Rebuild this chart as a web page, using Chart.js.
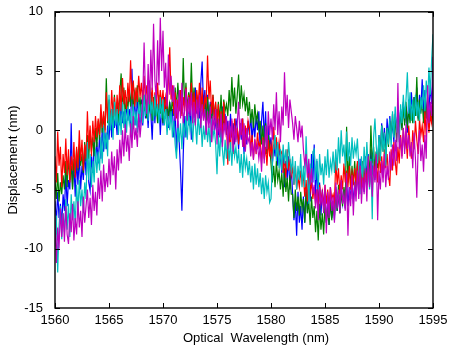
<!DOCTYPE html>
<html>
<head>
<meta charset="utf-8">
<title>Displacement vs Optical Wavelength</title>
<script src="https://cdn.jsdelivr.net/npm/chart.js@4.4.1/dist/chart.umd.min.js"></script>
<style>
  html, body { margin: 0; padding: 0; background: #fff; }
  #wrap { width: 449px; height: 350px; }
</style>
</head>
<body>
<div id="wrap"><canvas id="chart-disp" width="449" height="350"></canvas></div>
<script>
/* ══════════════════════════════════════════════════════════════════════════════
   DATA — displacement (nm) per sweep, one row = 1 nm (0.125 nm samples)
══════════════════════════════════════════════════════════════════════════════ */
const wavelength = [
  1560, 1560.125, 1560.25, 1560.375, 1560.5, 1560.625, 1560.75, 1560.875,
  1561, 1561.125, 1561.25, 1561.375, 1561.5, 1561.625, 1561.75, 1561.875,
  1562, 1562.125, 1562.25, 1562.375, 1562.5, 1562.625, 1562.75, 1562.875,
  1563, 1563.125, 1563.25, 1563.375, 1563.5, 1563.625, 1563.75, 1563.875,
  1564, 1564.125, 1564.25, 1564.375, 1564.5, 1564.625, 1564.75, 1564.875,
  1565, 1565.125, 1565.25, 1565.375, 1565.5, 1565.625, 1565.75, 1565.875,
  1566, 1566.125, 1566.25, 1566.375, 1566.5, 1566.625, 1566.75, 1566.875,
  1567, 1567.125, 1567.25, 1567.375, 1567.5, 1567.625, 1567.75, 1567.875,
  1568, 1568.125, 1568.25, 1568.375, 1568.5, 1568.625, 1568.75, 1568.875,
  1569, 1569.125, 1569.25, 1569.375, 1569.5, 1569.625, 1569.75, 1569.875,
  1570, 1570.125, 1570.25, 1570.375, 1570.5, 1570.625, 1570.75, 1570.875,
  1571, 1571.125, 1571.25, 1571.375, 1571.5, 1571.625, 1571.75, 1571.875,
  1572, 1572.125, 1572.25, 1572.375, 1572.5, 1572.625, 1572.75, 1572.875,
  1573, 1573.125, 1573.25, 1573.375, 1573.5, 1573.625, 1573.75, 1573.875,
  1574, 1574.125, 1574.25, 1574.375, 1574.5, 1574.625, 1574.75, 1574.875,
  1575, 1575.125, 1575.25, 1575.375, 1575.5, 1575.625, 1575.75, 1575.875,
  1576, 1576.125, 1576.25, 1576.375, 1576.5, 1576.625, 1576.75, 1576.875,
  1577, 1577.125, 1577.25, 1577.375, 1577.5, 1577.625, 1577.75, 1577.875,
  1578, 1578.125, 1578.25, 1578.375, 1578.5, 1578.625, 1578.75, 1578.875,
  1579, 1579.125, 1579.25, 1579.375, 1579.5, 1579.625, 1579.75, 1579.875,
  1580, 1580.125, 1580.25, 1580.375, 1580.5, 1580.625, 1580.75, 1580.875,
  1581, 1581.125, 1581.25, 1581.375, 1581.5, 1581.625, 1581.75, 1581.875,
  1582, 1582.125, 1582.25, 1582.375, 1582.5, 1582.625, 1582.75, 1582.875,
  1583, 1583.125, 1583.25, 1583.375, 1583.5, 1583.625, 1583.75, 1583.875,
  1584, 1584.125, 1584.25, 1584.375, 1584.5, 1584.625, 1584.75, 1584.875,
  1585, 1585.125, 1585.25, 1585.375, 1585.5, 1585.625, 1585.75, 1585.875,
  1586, 1586.125, 1586.25, 1586.375, 1586.5, 1586.625, 1586.75, 1586.875,
  1587, 1587.125, 1587.25, 1587.375, 1587.5, 1587.625, 1587.75, 1587.875,
  1588, 1588.125, 1588.25, 1588.375, 1588.5, 1588.625, 1588.75, 1588.875,
  1589, 1589.125, 1589.25, 1589.375, 1589.5, 1589.625, 1589.75, 1589.875,
  1590, 1590.125, 1590.25, 1590.375, 1590.5, 1590.625, 1590.75, 1590.875,
  1591, 1591.125, 1591.25, 1591.375, 1591.5, 1591.625, 1591.75, 1591.875,
  1592, 1592.125, 1592.25, 1592.375, 1592.5, 1592.625, 1592.75, 1592.875,
  1593, 1593.125, 1593.25, 1593.375, 1593.5, 1593.625, 1593.75, 1593.875,
  1594, 1594.125, 1594.25, 1594.375, 1594.5, 1594.625, 1594.75, 1594.875,
  1595,
];

const blueRun = [
  -6.0, -7.8, -5.2, -7.4, -6.2, -8.0, -5.4, -6.8,
  -3.6, -6.4, -4.2, -5.0, 0.6, -4.8, -2.8, -5.6,
  -2.4, -4.6, -2.0, -5.0, -3.0, -4.2, -1.8, -3.8,
  -1.2, -4.4, -5.1, -2.2, -3.6, -0.8, -2.6, -1.0,
  -2.8, -0.4, -2.4, 0.2, -1.8, -0.2, -1.6, 0.4,
  -0.8, 1.4, -0.6, 1.8, 0.2, 1.2, -0.4, 2.0,
  0.4, 2.2, 0.6, 1.6, 0.2, 2.4, 0.8, 1.8,
  0.2, 5.2, 1.0, 2.6, 0.4, 2.8, 1.2, 0.6,
  2.6, 0.4, 3.0, 1.0, 2.2, 0.2, 2.8, 1.4,
  -0.8, 2.4, 0.6, 3.0, 1.2, 2.6, -0.4, 2.0,
  0.4, 2.8, 1.2, 3.0, 0.2, 2.4, 1.0, 1.8,
  -0.6, 1.6, -1.8, 0.8, -1.0, -3.4, -6.8, -2.0,
  1.2, -0.6, 2.6, 0.4, 2.2, -0.8, 3.0, 1.0,
  3.6, 1.4, 2.8, 1.0, 4.0, 5.8, 2.0, 3.4,
  1.0, 3.0, 0.6, 2.4, 0.2, 2.8, 1.2, 0.4,
  1.8, -0.6, 1.2, -1.0, 2.0, 0.0, 1.4, -0.4,
  0.8, -1.0, 1.4, -0.6, 0.6, -1.2, 1.0, 0.2,
  -1.6, 0.6, -0.8, 1.0, -2.0, 0.2, -1.2, 0.8,
  -0.4, 1.4, -1.0, 0.8, -0.6, 1.2, 0.0, 1.6,
  -1.8, 0.8, 2.4, -0.8, 1.6, -2.0, 0.4, -1.4,
  -0.6, -2.8, -1.2, -2.2, -0.8, -3.0, -1.6, -2.4,
  -3.6, -2.0, -4.8, -2.6, -4.2, -2.2, -5.0, -3.0,
  -5.4, -7.6, -6.0, -8.9, -5.2, -7.8, -6.4, -8.4,
  -5.6, -7.8, -4.8, -7.0, -3.2, -6.0, -2.0, -4.4,
  -1.2, -5.6, -2.6, -6.8, -4.4, -7.2, -5.0, -6.4,
  -5.4, -7.8, -6.2, -8.0, -5.6, -7.4, -6.0, -7.6,
  -4.8, -6.8, -5.2, -7.0, -4.6, -6.2, -5.4, -6.6,
  -4.2, -6.4, -4.8, -5.8, -4.0, -6.2, -4.6, -5.4,
  -3.0, -5.4, -2.4, -4.8, -3.6, -5.2, -2.2, -4.0,
  -2.0, -4.4, -1.6, -3.8, -2.4, -4.2, -1.8, -3.0,
  -0.4, -2.0, 0.6, -1.4, 0.2, -1.8, 1.0, -0.8,
  1.2, -0.6, 0.8, -1.0, 1.4, 0.0, 1.6, -0.2,
  1.8, 0.2, 2.4, 0.6, 2.0, -0.2, 2.6, 1.0,
  3.2, 1.2, 2.8, 1.6, 3.6, 1.0, 3.0, 1.8,
  4.3, 1.4, 3.4, 1.0, 2.8, 1.6, 3.8, 2.2,
  5.0,
];

const greenRun = [
  -4.2, -5.8, -3.6, -6.0, -4.4, -5.4, -3.8, -5.0,
  -2.6, -4.8, -2.2, -4.2, -3.0, -5.0, -2.4, -3.6,
  -1.6, -3.4, -1.2, -3.0, -2.0, -3.6, -1.0, -2.6,
  -0.4, -2.4, 0.0, -1.8, -0.6, -2.2, 0.2, -1.4,
  0.8, -0.8, 1.6, -0.2, 1.2, 0.0, 4.4, 0.6,
  2.6, 0.4, 1.8, 0.2, 3.0, 1.0, 2.4, 0.6,
  3.2, 4.8, 1.6, 3.6, 1.2, 2.8, 1.8, 3.4,
  2.0, 4.0, 1.6, 3.2, 2.4, 3.8, 1.8, 2.8,
  1.2, 3.4, 1.6, 3.0, 1.0, 2.6, 1.8, 3.2,
  0.8, 2.8, 1.2, 2.2, 0.6, 3.0, 1.4, 2.4,
  0.6, 2.6, 1.0, 3.0, 0.8, 2.2, 1.4, 2.8,
  1.2, 3.6, 1.8, 4.0, 2.2, 3.4, 1.4, 6.1,
  2.0, 4.0, 1.6, 3.2, 2.2, 5.7, 2.0, 3.6,
  1.4, 3.0, 1.0, 2.6, 1.6, 2.8, 1.2, 2.4,
  0.6, 2.8, 1.0, 2.2, 0.4, 3.0, 1.2, 2.0,
  0.2, 2.4, 0.8, 3.0, 0.4, 2.6, 1.6, 2.2,
  1.2, 3.4, 1.6, 4.5, 2.0, 3.6, 1.4, 3.0,
  4.7, 1.8, 3.8, 2.2, 3.0, 1.6, 2.8, 1.2,
  2.4, 0.6, 1.8, 0.2, 2.2, 0.8, 1.4, 0.0,
  0.8, -1.2, 0.4, -1.8, 0.6, -2.0, -0.4, -1.4,
  -2.8, -4.4, -3.0, -4.8, -2.6, -4.2, -3.4, -5.0,
  -3.6, -5.6, -3.2, -5.2, -4.0, -6.0, -3.8, -5.4,
  -5.4, -7.4, -5.0, -6.8, -5.6, -7.2, -5.2, -6.6,
  -5.8, -7.8, -5.2, -7.0, -6.0, -8.0, -5.6, -7.4,
  -6.4, -8.6, -6.8, -9.3, -6.2, -8.4, -7.0, -8.8,
  -6.2, -7.8, -6.6, -8.0, -6.0, -7.6, -6.4, -7.2,
  -5.0, -6.8, -4.6, -7.0, -5.2, -6.4, -4.8, -6.0,
  0.3, -4.4, -2.2, -5.0, -3.0, -4.6, -2.6, -4.8,
  -2.8, -4.8, -3.2, -5.0, -2.6, -4.4, -3.0, -4.6,
  -2.2, -4.0, 0.4, -2.8, -1.4, -3.6, -1.8, -3.2,
  -0.6, -2.4, 0.4, -1.8, -0.2, -2.6, 0.2, -1.4,
  0.8, -0.8, 1.4, -0.4, 1.0, -1.0, 1.2, 0.2,
  1.6, 0.0, 2.2, 0.4, 2.4, 0.2, 1.8, 0.6,
  2.0, 0.6, 2.8, 1.2, 4.5, 0.8, 2.6, 1.4,
  2.6, 0.6, 2.2, 1.0, 3.0, 0.4, 1.8, 0.8,
  1.4,
];

const redRun = [
  -2.2, -4.4, -0.1, -3.0, -1.4, -4.8, -2.0, -3.6,
  -0.7, -3.8, -1.6, -4.4, -2.2, -3.4, -1.0, -4.0,
  -1.4, -3.2, 0.0, -2.6, -0.8, -3.4, -1.2, -2.4,
  1.6, -1.6, 0.4, -2.2, 0.8, -1.0, 1.2, -0.6,
  1.0, -0.4, 2.2, 0.2, 1.6, -0.2, 3.2, 0.8,
  2.4, 0.6, 3.4, 1.2, 2.8, 0.8, 3.0, 1.4,
  3.8, 1.6, 4.4, 2.2, 3.4, 1.8, 4.0, 2.4,
  5.9, 2.6, 4.2, 2.0, 3.6, 2.4, 4.6, 2.8,
  4.0, 2.2, 4.6, 2.6, 3.8, 2.0, 4.2, 2.4,
  3.6, 1.6, 3.2, 2.0, 4.0, 1.8, 3.4, 2.2,
  3.4, 1.6, 2.8, 1.8, 4.2, 7.0, 2.6, 3.8,
  1.4, 3.2, 1.0, 2.6, 1.6, 3.4, 1.2, 2.8,
  1.6, 3.6, 1.2, 3.0, 2.0, 4.0, 1.4, 3.2,
  1.2, 3.4, 2.0, 4.0, 1.6, 3.6, 1.0, 2.8,
  2.2, 6.3, 2.6, 4.2, 1.4, 3.0, 1.0, 2.4,
  0.6, 2.2, -0.4, 1.6, -1.0, 2.4, 0.2, 1.0,
  -2.9, 0.4, -1.6, 0.8, -2.0, 1.0, -0.8, 0.2,
  -1.2, 0.6, -0.4, 1.0, -1.4, 0.4, -0.8, 0.8,
  0.1, -1.6, -0.4, -2.4, -0.8, -2.0, -0.2, -1.4,
  -1.0, -2.8, -0.6, -2.4, -1.4, -3.0, -0.8, -2.2,
  -1.2, -2.4, 0.3, -1.6, -0.6, -2.2, -1.0, -2.0,
  -1.8, -3.6, -2.2, -4.0, -1.6, -3.4, -2.4, -3.8,
  -3.2, -4.6, -3.0, -5.0, -4.0, -4.8, -3.4, -4.4,
  -3.8, -5.6, -4.2, -6.0, -3.6, -5.2, -4.4, -5.8,
  -4.8, -6.2, -5.0, -6.4, -4.6, -6.0, -5.2, -6.5,
  -4.6, -6.2, -5.0, -6.4, -4.8, -5.8, -5.4, -6.0,
  -2.5, -4.6, -3.2, -5.4, -3.8, -5.0, -2.8, -4.4,
  -3.4, -4.8, -3.0, -5.0, -3.6, -4.4, -3.2, -4.6,
  -2.6, -4.4, -3.0, -5.0, -2.8, -4.6, -3.4, -4.2,
  -2.8, -4.6, -3.2, -5.0, -2.6, -4.0, -3.0, -4.4,
  -1.8, -3.6, -2.2, -4.0, -1.6, -3.2, -2.0, -3.8,
  -4.7, -1.6, -3.4, -1.0, -2.6, -3.8, -1.4, -2.8,
  -0.4, -2.2, 0.2, -1.6, -0.6, -2.4, 0.4, -1.2,
  -2.4, 0.0, -1.6, 0.8, -0.8, -2.0, 1.0, -0.4,
  0.4, -1.0, 1.6, -0.6, 2.0, -0.2, 1.2, 0.6,
  2.6,
];

const cyanRun = [
  -9.8, -7.2, -12.0, -8.0, -6.4, -9.2, -7.0, -8.6,
  -5.8, -8.4, -6.2, -9.0, -5.4, -7.6, -6.0, -8.0,
  -4.6, -6.8, -4.2, -6.4, -5.0, -7.0, -4.4, -5.8,
  -1.0, -4.2, -2.0, -4.8, -2.6, -4.4, -1.6, -3.6,
  -1.8, -3.4, -0.6, -2.8, 0.4, -1.6, -0.2, -2.2,
  3.0, 0.0, 1.8, -0.8, 2.4, 0.4, 1.8, -0.4,
  1.6, -0.4, 2.4, 0.2, 1.8, -0.2, 2.0, 0.6,
  1.4, -0.4, 2.2, 0.4, 1.6, -0.2, 2.4, 0.8,
  2.2, 0.6, 3.0, 1.2, 2.6, 0.8, 3.9, 1.4,
  2.4, 0.8, 3.0, 1.2, 2.2, 0.6, 2.8, 1.0,
  2.6, 0.4, 1.8, -0.4, 1.2, 0.0, 1.6, -0.6,
  0.8, -1.2, -2.4, 0.4, -1.0, 0.6, -1.6, 1.0,
  -0.6, 1.2, -0.8, 1.4, 0.0, 0.8, -1.0, 1.0,
  0.6, -1.2, 1.4, -0.4, 1.0, -1.4, 0.4, -0.8,
  0.8, -1.0, 0.4, -1.4, 1.0, -0.6, 0.2, -1.2,
  -3.7, -0.4, -2.2, 0.0, -1.6, -3.0, -0.8, -2.4,
  -0.6, -2.6, -1.0, -3.0, -0.8, -2.2, -1.4, -2.8,
  -1.6, -3.6, -2.0, -4.0, -1.8, -3.2, -2.4, -3.8,
  -2.6, -4.4, -3.0, -5.0, -2.8, -4.6, -3.2, -4.8,
  -3.6, -5.4, -4.0, -5.8, -3.8, -5.2, -4.4, -6.1,
  -5.8, -3.0, -1.4, -0.4, -2.6, -1.0, -3.2, -1.6,
  -3.4, -1.2, -2.8, -1.6, -3.2, -1.0, -2.4, -3.4,
  -2.2, -4.6, -2.6, -5.0, -3.0, -4.2, -2.0, -4.8,
  -3.0, -4.8, -0.5, -3.6, -6.2, -2.8, -4.4, -1.8,
  -1.6, -4.2, -2.4, -5.0, -2.0, -3.8, -2.8, -4.6,
  -2.2, -3.8, -1.6, -4.0, -2.6, -3.4, -1.8, -3.6,
  -1.6, -3.4, -0.6, -2.8, 0.0, -2.2, -1.2, -3.0,
  -0.1, -2.6, -1.0, -3.0, -0.6, -2.4, -1.2, -2.0,
  -0.7, -3.0, -5.4, -2.2, -4.0, -1.4, -3.6, -1.0,
  -3.2, -5.0, -2.4, -7.5, -0.6, 1.0, -1.4, -2.8,
  -0.4, -2.6, 0.4, -1.8, -0.2, -3.0, 0.2, -1.2,
  1.0, -1.4, 1.6, -0.6, 2.0, -0.2, 1.2, -1.0,
  2.2, 0.6, 3.0, 1.0, 2.6, 4.9, 1.4, 3.2,
  0.8, 2.6, 0.6, 3.0, 1.2, 2.4, 0.8, 2.8,
  1.8, 3.8, 1.6, 4.2, 2.4, 5.3, 3.0, 6.0,
  8.1,
];

const magentaRun = [
  -7.4, -11.2, -8.2, -10.0, -6.6, -9.0, -7.0, -9.4,
  -6.4, -8.8, -9.6, -7.0, -8.6, -6.2, -9.3, -7.4,
  -8.8, -6.0, -8.2, -6.8, -9.0, -5.6, -7.8, -6.4,
  -5.0, -7.4, -5.7, -8.0, -4.6, -6.8, -5.2, -7.2,
  -4.0, -5.8, -3.4, -6.0, -2.9, -5.2, -3.6, -4.8,
  -2.4, -4.6, -1.8, -3.8, -2.2, -5.0, -1.6, -3.4,
  -0.8, -2.8, 0.0, -2.2, 0.5, -1.8, -0.4, -2.6,
  0.6, -1.5, 1.2, -0.8, 0.2, -1.4, 1.4, -0.6,
  0.8, 2.6, 7.4, 3.0, 1.4, 5.6, 2.2, 6.8,
  3.4, 9.0, 4.2, 2.6, 7.6, 3.8, 9.5, 5.0,
  8.4, 3.6, 5.7, 2.0, 6.4, 3.0, 4.6, 2.4,
  3.8, 0.8, 2.6, 0.2, 3.4, 1.0, 4.0, 0.6,
  1.6, 3.5, 0.8, 2.8, 1.2, 3.2, 0.6, 2.4,
  0.4, 2.6, 1.0, 3.0, 0.2, 2.2, 0.8, 1.8,
  -0.4, 1.6, 0.2, 2.0, -1.0, 1.2, 0.0, 1.8,
  -1.2, 1.0, -0.6, 1.4, -1.4, 0.6, -0.2, 1.2,
  -1.6, 0.8, -0.8, 1.0, -1.8, 0.4, -1.0, 0.6,
  2.4, -0.6, 1.0, -1.4, 0.6, -1.8, 0.2, -1.0,
  -0.6, -2.2, -1.0, -2.5, -0.7, -1.8, -1.2, -2.4,
  -1.4, -3.5, -0.8, -2.8, 0.4, -1.6, 1.6, -0.4,
  1.0, -0.8, 2.2, 0.0, 3.2, -0.4, 1.6, -1.0,
  2.0, 0.4, 4.9, 1.2, 3.0, 0.2, 2.6, 1.6,
  0.6, -0.8, 1.2, 0.2, -1.0, 0.8, -0.6, 0.4,
  -1.6, -2.9, -2.0, -4.0, -2.4, -4.6, -3.2, -5.4,
  -4.6, -6.6, -5.0, -7.6, -4.8, -6.2, -5.4, -7.0,
  -4.6, -8.7, -5.2, -7.4, -4.8, -6.8, -5.6, -7.8,
  -4.4, -6.6, -5.0, -7.0, -4.2, -6.2, -5.4, -6.8,
  -3.6, -8.9, -4.8, -6.4, -3.8, -7.2, -4.4, -6.0,
  -3.4, -5.8, -3.0, -6.2, -4.0, -5.4, -3.2, -6.0,
  -2.2, -4.8, -2.6, -5.6, -3.0, -4.4, -2.0, -7.6,
  -3.4, -5.0, -2.6, -4.4, -2.0, -4.8, -3.0, -4.2,
  -1.8, -3.4, -1.2, -3.0, -0.8, -2.6, 4.0, -1.6,
  -0.6, -2.4, 0.2, -2.0, 0.5, -1.6, -0.4, -2.2,
  -1.0, -3.2, -0.2, -2.4, -5.7, -1.4, 0.0, -2.6,
  -1.2, -3.5, -0.4, -2.4, 3.8, 0.6, 2.4, 1.2,
  6.2,
];

const xTicks = [1560, 1565, 1570, 1575, 1580, 1585, 1590, 1595];
const yTicks = [-15, -10, -5, 0, 5, 10];

// matlab b, g, r, c, m — plotted in that order, so magenta ends up on top
const runs = [
  { ys: blueRun, color: "#0000ff" },
  { ys: greenRun, color: "#008000" },
  { ys: redRun, color: "#ff0000" },
  { ys: cyanRun, color: "#00bfbf" },
  { ys: magentaRun, color: "#bf00bf" },
];

const FONT = { family: "'Liberation Sans', Arial, sans-serif", size: 13 };

/* ══════════════════════════════════════════════════════════════════════════════
   BOX + INWARD TICKS (matlab style axes)
══════════════════════════════════════════════════════════════════════════════ */
const matlabBox = {
  id: "matlabBox",
  afterDraw(chart) {
    const { ctx, chartArea: a, scales } = chart;
    const len = 5;
    ctx.save();
    ctx.strokeStyle = "#000";
    ctx.lineWidth = 1.4;
    ctx.strokeRect(a.left, a.top, a.right - a.left, a.bottom - a.top);

    ctx.lineWidth = 1;
    ctx.beginPath();
    xTicks.forEach((v) => {
      const px = Math.round(scales.x.getPixelForValue(v)) + 0.5;
      ctx.moveTo(px, a.bottom);
      ctx.lineTo(px, a.bottom - len);
      ctx.moveTo(px, a.top);
      ctx.lineTo(px, a.top + len);
    });
    yTicks.forEach((v) => {
      const py = Math.round(scales.y.getPixelForValue(v)) + 0.5;
      ctx.moveTo(a.left, py);
      ctx.lineTo(a.left + len, py);
      ctx.moveTo(a.right, py);
      ctx.lineTo(a.right - len, py);
    });
    ctx.stroke();

    // x label sits a little right of centre in the original figure
    ctx.fillStyle = "#000";
    ctx.font = `${FONT.size}px ${FONT.family}`;
    ctx.textAlign = "center";
    ctx.textBaseline = "middle";
    ctx.fillText("Optical  Wavelength (nm)", 256, 338);
    ctx.restore();
  },
};

/* ══════════════════════════════════════════════════════════════════════════════
   CHART
══════════════════════════════════════════════════════════════════════════════ */
function toPoints(ys) {
  return wavelength.map((x, i) => ({ x, y: ys[i] }));
}

// dataset 0 is drawn last in chart.js, so reverse to keep matlab stacking
const datasets = runs
  .map((r) => ({
    data: toPoints(r.ys),
    borderColor: r.color,
    backgroundColor: r.color,
    borderWidth: 1.2,
    pointRadius: 0,
    tension: 0,
    fill: false,
  }))
  .reverse();

new Chart(document.getElementById("chart-disp"), {
  type: "line",
  data: { datasets },
  options: {
    responsive: false,
    animation: false,
    events: [],
    layout: { padding: { top: 9, right: 16, left: 0, bottom: 0 } },
    plugins: { legend: { display: false }, tooltip: { enabled: false } },
    scales: {
      x: {
        type: "linear",
        min: 1560,
        max: 1595,
        afterFit: (s) => { s.height = 42; },
        afterBuildTicks: (s) => { s.ticks = xTicks.map((v) => ({ value: v })); },
        grid: { display: false },
        border: { display: false },
        ticks: {
          color: "#000",
          font: FONT,
          padding: -3,
          maxRotation: 0,
          callback: (v) => String(v),
        },
      },
      y: {
        type: "linear",
        min: -15,
        max: 10,
        afterFit: (s) => { s.width = 55; },
        afterBuildTicks: (s) => { s.ticks = yTicks.map((v) => ({ value: v })); },
        grid: { display: false },
        border: { display: false },
        ticks: { color: "#000", font: FONT, padding: 4, callback: (v) => String(v) },
        title: {
          display: true,
          text: "Displacement (nm)",
          color: "#000",
          font: FONT,
          padding: { top: 6, bottom: 0 },
        },
      },
    },
  },
  plugins: [matlabBox],
});
</script>
</body>
</html>
